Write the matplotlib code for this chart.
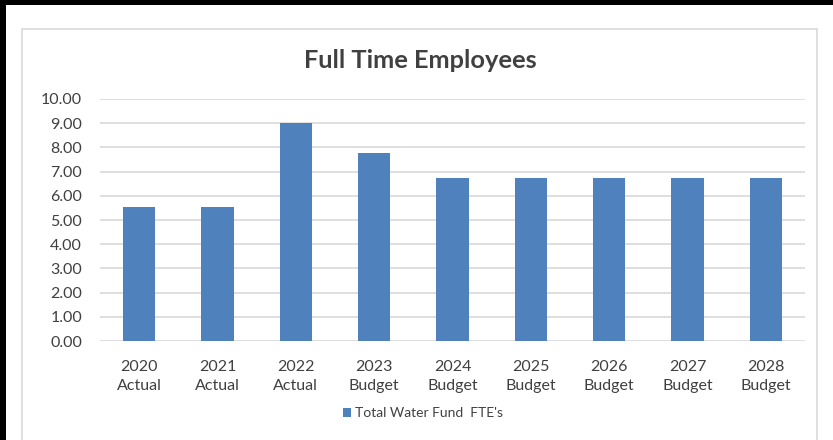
import numpy as np
import matplotlib.pyplot as plt
from matplotlib.patches import Rectangle

# chart data
years = ["2020", "2021", "2022", "2023", "2024", "2025", "2026", "2027", "2028"]
kinds = ["Actual", "Actual", "Actual", "Budget", "Budget", "Budget", "Budget", "Budget", "Budget"]
fte = [5.53, 5.53, 9.00, 7.75, 6.75, 6.75, 6.75, 6.75, 6.75]
series_name = "Total Water Fund  FTE's"

plt.rcParams['font.family'] = ['Lato', 'DejaVu Sans']

W, H = 833, 440
fig = plt.figure(figsize=(W / 100, H / 100), dpi=100)

# outer black border (left and top) and light chart frame
fig.patches.append(Rectangle((0, 0), 6 / W, 1, transform=fig.transFigure,
                             facecolor='black', edgecolor='none'))
fig.patches.append(Rectangle((0, 1 - 5 / H), 1, 5 / H, transform=fig.transFigure,
                             facecolor='black', edgecolor='none'))
fig.patches.append(Rectangle((22 / W, -0.05), (817 - 22) / W, 1.05 - 29 / H,
                             transform=fig.transFigure, facecolor='none',
                             edgecolor='#D9D9D9', linewidth=1.2))

ax = fig.add_axes([100 / W, 1 - 341 / H, (805 - 100) / W, (341 - 99) / H])
x = np.arange(len(years))
ax.bar(x, fte, width=0.41, color='#4F81BD', label=series_name, zorder=3)

ax.set_xlim(-0.5, len(years) - 0.5)
ax.set_ylim(0, 10)
ax.set_yticks(np.arange(0, 11, 1))
ax.set_yticklabels([f"{v:.2f}" for v in np.arange(0, 11, 1)])
ax.set_xticks(x)
ax.set_xticklabels([f"{y}\n{k}" for y, k in zip(years, kinds)], linespacing=1.45)
ax.tick_params(axis='both', length=0, labelsize=11.5, colors='#404040')
ax.tick_params(axis='x', pad=14)
ax.tick_params(axis='y', pad=13)

ax.grid(axis='y', color='#D9D9D9', linewidth=1.2, zorder=0)
for s in ax.spines.values():
    s.set_visible(False)

fig.text(420 / W, 1 - 61 / H, "Full Time Employees", ha='center', va='center',
         fontsize=18.3, fontweight='bold', color='#404040')

fig.legend(loc='center', bbox_to_anchor=(423 / W, 1 - 413 / H), frameon=False,
           fontsize=10, handlelength=0.6, handleheight=0.6, handletextpad=0.3,
           labelcolor='#404040')

fig.savefig("out.png", dpi=100)
